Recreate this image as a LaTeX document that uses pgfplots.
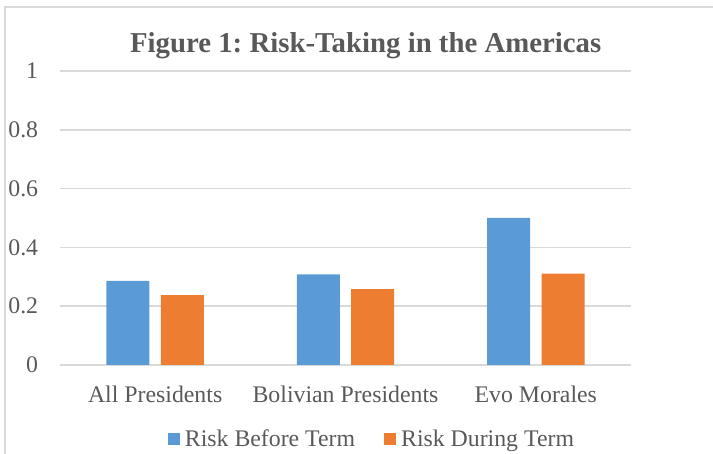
\documentclass[border=0pt]{standalone}
\usepackage{pgfplots}
\pgfplotsset{compat=1.18}
\usepackage{fontspec}
\setmainfont{Liberation Serif}
\frenchspacing

\definecolor{barblue}{HTML}{5B9BD5}
\definecolor{barorange}{HTML}{ED7D31}
\definecolor{txtgray}{HTML}{595959}
\definecolor{gridgray}{HTML}{D9D9D9}

\newcommand{\lblfont}{\fontsize{23.8bp}{28bp}\selectfont}

\begin{document}
\begin{tikzpicture}
\path[use as bounding box] (0,0) rectangle (713bp,454bp);
% chart frame (only top and left edges are in the crop)
\draw[gridgray, line width=1.5bp] (5bp,0) -- (5bp,447bp) -- (713bp,447bp);

\begin{axis}[
    at={(60bp,89bp)}, anchor=south west,
    scale only axis,
    width=571bp, height=294bp,
    ybar=11.4bp, bar width=43bp,
    xmin=-0.5, xmax=2.5,
    ymin=0, ymax=1,
    xtick={0,1,2},
    xticklabels={All Presidents, Bolivian Presidents, Evo Morales},
    ytick={0,0.2,...,1},
    yticklabels={0,0.2,0.4,0.6,0.8,1},
    ymajorgrids,
    grid style={gridgray, line width=1.5bp},
    axis line style={draw=none},
    major tick length=0pt,
    tick label style={font=\lblfont, text=txtgray, inner sep=0pt},
    yticklabel style={anchor=east, xshift=-21.7bp},
    xticklabel style={anchor=base, yshift=-37bp},
    legend style={at={(0.549,-0.252)}, anchor=center, draw=none, fill=none,
        font=\lblfont, text=txtgray, legend columns=2,
        /tikz/every even column/.append style={column sep=24bp},
        nodes={inner xsep=5bp, inner ysep=0pt}},
    legend image code/.code={\fill[#1] (0bp,-6bp) rectangle (12bp,6bp);},
]
\addplot[fill=barblue, draw=none] coordinates {(0,0.286) (1,0.308) (2,0.5)};
\addlegendentry{Risk Before Term}
\addplot[fill=barorange, draw=none] coordinates {(0,0.238) (1,0.258) (2,0.311)};
\addlegendentry{Risk During Term}
\end{axis}

\node[anchor=base, text=txtgray, font=\fontsize{28.8bp}{34bp}\selectfont\bfseries]
    at (365.7bp,401.7bp) {Figure 1: Risk-Taking in the Americas};
\end{tikzpicture}
\end{document}
